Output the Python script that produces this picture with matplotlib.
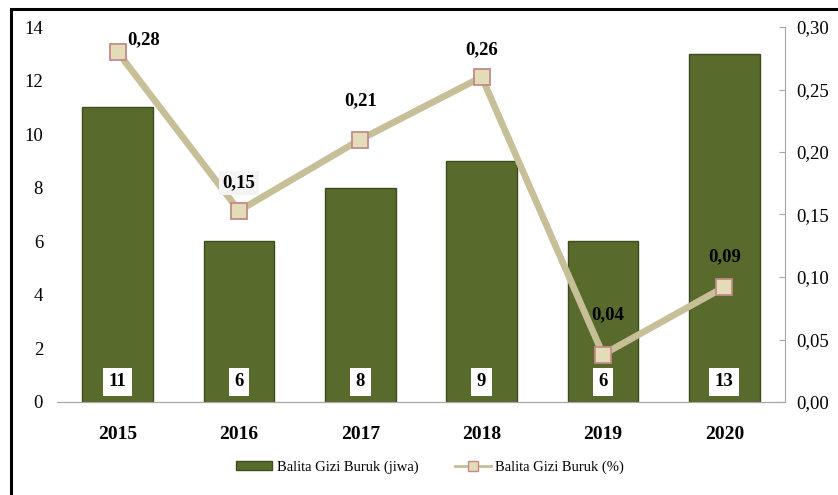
import numpy as np
import matplotlib
matplotlib.use('Agg')
import matplotlib.pyplot as plt
from matplotlib.lines import Line2D
from matplotlib.patches import Patch, Rectangle

years = ['2015', '2016', '2017', '2018', '2019', '2020']
jiwa = [11, 6, 8, 9, 6, 13]
persen = [0.28, 0.153, 0.21, 0.26, 0.038, 0.092]
# label offsets (pixels) for the % labels
pct_off = [(26, 12), (0, 28), (0, 39), (0, 27), (5, 40), (0, 30)]

plt.rcParams['font.family'] = ['Liberation Serif', 'DejaVu Serif']

BAR = '#586b2c'
BAR_EDGE = '#3d4c1c'
LINE = '#c6bf98'
MK_FACE = '#e3dcb8'
MK_EDGE = '#c48a88'
GRID = '#a6a6a6'

fig = plt.figure(figsize=(8.38, 4.95), dpi=100)
ax = fig.add_axes([57/838, 1-402/495, (785-57)/838, (402-27)/495])
ax2 = ax.twinx()
ax.set_zorder(ax2.get_zorder() - 1)
ax.patch.set_visible(False)

x = np.arange(len(years))
ax.bar(x, jiwa, width=0.58, color=BAR, edgecolor=BAR_EDGE, linewidth=1.0, zorder=2)
for xi, v in zip(x, jiwa):
    ax.text(xi, 0.75, str(v), ha='center', va='center', fontsize=13.5, fontweight='bold',
            bbox=dict(boxstyle='square,pad=0.3', fc='white', ec='none'), zorder=5)

ax2.plot(x, persen, color=LINE, lw=4.8, marker='s', ms=12, mfc=MK_FACE, mec=MK_EDGE, mew=1.3,
         zorder=3)
for xi, v, off in zip(x, persen, pct_off):
    bb = dict(boxstyle='square,pad=0.2', fc='#f4f4f4', ec='none') if xi == 1 else None
    ax2.annotate(f'{v:.2f}'.replace('.', ','), (xi, v), xytext=off, textcoords='offset pixels',
                 ha='center', va='center', fontsize=13.5, fontweight='bold', bbox=bb, zorder=6)

ax.set_xlim(-0.5, len(years) - 0.5)
ax.set_ylim(0, 14)
ax.set_yticks(range(0, 15, 2))
ax2.set_ylim(0, 0.30)
ax2.set_yticks(np.arange(0, 0.31, 0.05))
ax2.set_yticklabels([f'{t:.2f}'.replace('.', ',') for t in np.arange(0, 0.31, 0.05)])

ax.set_xticks(x)
ax.set_xticklabels(years, fontsize=14, fontweight='bold')
ax.tick_params(axis='x', length=0, pad=17)
ax.tick_params(axis='y', length=0, labelsize=13.5, pad=10)
ax2.tick_params(axis='y', direction='in', length=4, color=GRID, labelsize=13.5, pad=8)
ax2.tick_params(axis='x', length=0)

for a in (ax, ax2):
    for s in ('top', 'left'):
        a.spines[s].set_visible(False)
    a.spines['bottom'].set_color(GRID)
    a.spines['right'].set_color(GRID)
ax.spines['right'].set_visible(False)

handles = [Patch(facecolor=BAR, edgecolor=BAR_EDGE, label='Balita Gizi Buruk (jiwa)'),
           Line2D([0], [0], color=LINE, lw=2, marker='s', ms=7, mfc=MK_FACE, mec=MK_EDGE,
                  label='Balita Gizi Buruk (%)')]
fig.legend(handles=handles, loc='center', bbox_to_anchor=(430/838, 1-467/495), ncol=2,
           frameon=False, fontsize=10.5, handlelength=2.5, columnspacing=2.5, handleheight=0.5,
           handletextpad=0.3)

# outer frame (top and left edges visible)
fig.add_artist(Rectangle((11/838, -0.1), 1.2, 1.1 - 8.5/495, transform=fig.transFigure,
                         fill=False, ec='black', lw=2.2))

fig.savefig('out.png', dpi=100)
